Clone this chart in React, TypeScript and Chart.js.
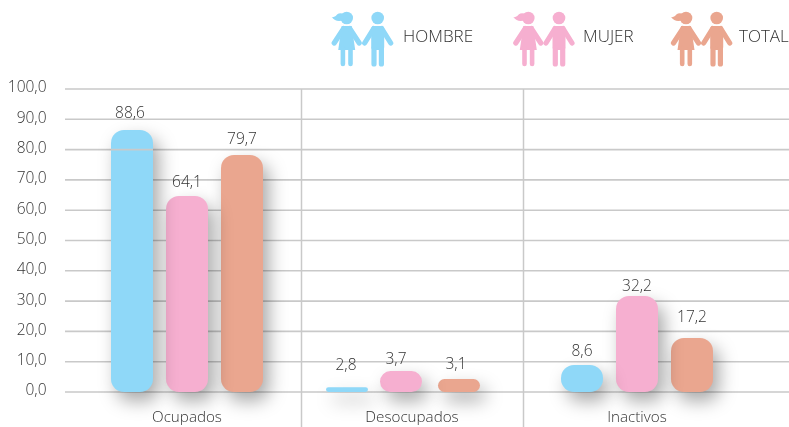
import React, { useEffect, useRef } from "react";
import { Chart, registerables } from "chart.js";

Chart.register(...registerables);

const categories = ["Ocupados", "Desocupados", "Inactivos"];
const seriesNames = ["HOMBRE", "MUJER", "TOTAL"];
const seriesColors = ["#8fd8f8", "#f6afd0", "#eaa68f"];
// Bar heights as drawn in the picture
const hombreHeights = [86.5, 1.6, 8.9];
const mujerHeights = [64.7, 6.9, 31.7];
const totalHeights = [78.2, 4.3, 17.8];
// Values as printed above the bars
const hombreLabels = ["88,6", "2,8", "8,6"];
const mujerLabels = ["64,1", "3,7", "32,2"];
const totalLabels = ["79,7", "3,1", "17,2"];
const yTickValues = [0, 10, 20, 30, 40, 50, 60, 70, 80, 90, 100];

const FONT = '"Open Sans", sans-serif';
const TEXT = "#333333";
const GRID = "#c9c9c9";
const barNudge = [[0, 0, 0], [-10, -11, -8], [0, 0, 0]];
const labelGap = [[16, 13, 15], [22, 12, 14], [13, 9, 20]];
const labelNudgeX = [[-2, 0, 0], [-1, -5, -3], [0, 0, 0]];
const separatorNudge = [2, -1];
const allLabels = [hombreLabels, mujerLabels, totalLabels];

function drawGirl(c: CanvasRenderingContext2D, x: number) {
  c.beginPath(); c.arc(x, 18, 6.3, 0, Math.PI * 2); c.fill();
  c.beginPath();
  c.moveTo(x - 3, 14);
  c.bezierCurveTo(x - 8, 12, x - 10, 15, x - 11, 16);
  c.quadraticCurveTo(x - 13, 17.5, x - 15, 17);
  c.bezierCurveTo(x - 12, 21, x - 8, 22, x - 3, 20);
  c.fill();
  c.beginPath();
  c.moveTo(x - 5, 26); c.lineTo(x + 5, 26); c.lineTo(x + 8.5, 50); c.lineTo(x - 8.5, 50);
  c.closePath(); c.fill();
  c.lineCap = "round";
  c.lineWidth = 5.2;
  c.beginPath();
  c.moveTo(x - 3, 28.5); c.lineTo(x - 12.5, 43);
  c.moveTo(x + 3, 28.5); c.lineTo(x + 12.5, 43);
  c.stroke();
  c.lineWidth = 4.6;
  c.beginPath();
  c.moveTo(x - 3.8, 48); c.lineTo(x - 3.8, 64);
  c.moveTo(x + 3.8, 48); c.lineTo(x + 3.8, 64);
  c.stroke();
}

function drawBoy(c: CanvasRenderingContext2D, x: number) {
  c.beginPath(); c.arc(x, 18, 6.3, 0, Math.PI * 2); c.fill();
  c.beginPath();
  c.roundRect(x - 6.5, 26, 13, 24, 3); c.fill();
  c.lineCap = "round";
  c.lineWidth = 5.2;
  c.beginPath();
  c.moveTo(x - 4, 28.5); c.lineTo(x - 13, 43);
  c.moveTo(x + 4, 28.5); c.lineTo(x + 13, 43);
  c.stroke();
  c.lineWidth = 5.2;
  c.beginPath();
  c.moveTo(x - 3.7, 48); c.lineTo(x - 3.7, 64);
  c.moveTo(x + 3.7, 48); c.lineTo(x + 3.7, 64);
  c.stroke();
}

const legendSlots = [
  { girl: 346.7, boy: 377.7, text: 403 },
  { girl: 528.3, boy: 559, text: 583 },
  { girl: 686, boy: 716.7, text: 739 },
];

const customPlugin = {
  id: "custom",
  afterDatasetsUpdate(chart: any) {
    chart.data.datasets.forEach((_: any, d: number) => {
      chart.getDatasetMeta(d).data.forEach((el: any, i: number) => {
        el.x += barNudge[i][d];
      });
    });
  },
  beforeDatasetsDraw(chart: any) {
    const c = chart.ctx;
    const y = chart.scales.y;
    const x = chart.scales.x;
    c.save();
    c.strokeStyle = GRID;
    c.lineWidth = 1.6;
    yTickValues.forEach((v) => {
      const py = y.getPixelForValue(v);
      c.beginPath(); c.moveTo(65, py); c.lineTo(789, py); c.stroke();
    });
    c.lineWidth = 1.5;
    for (let i = 0; i < categories.length - 1; i++) {
      const px = (x.getPixelForValue(i) + x.getPixelForValue(i + 1)) / 2 + separatorNudge[i];
      c.beginPath(); c.moveTo(px, y.getPixelForValue(100)); c.lineTo(px, 427); c.stroke();
    }
    c.restore();
  },
  beforeDatasetDraw(chart: any) {
    const c = chart.ctx;
    c.save();
    c.shadowColor = "rgba(0,0,0,0.34)";
    c.shadowBlur = 18;
    c.shadowOffsetX = 6;
    c.shadowOffsetY = 9;
  },
  afterDatasetDraw(chart: any) {
    chart.ctx.restore();
  },
  afterDatasetsDraw(chart: any) {
    const c = chart.ctx;
    const y80 = chart.scales.y.getPixelForValue(80);
    const first = chart.getDatasetMeta(0).data[0];
    c.save();
    c.strokeStyle = GRID;
    c.lineWidth = 1.6;
    c.beginPath(); c.moveTo(first.x - 21, y80); c.lineTo(first.x + 21, y80); c.stroke();

    c.font = `300 15.5px ${FONT}`;
    c.fillStyle = TEXT;
    c.textAlign = "center";
    c.textBaseline = "middle";
    chart.data.datasets.forEach((_: any, d: number) => {
      chart.getDatasetMeta(d).data.forEach((el: any, i: number) => {
        c.fillText(allLabels[d][i], el.x + labelNudgeX[i][d], el.y - labelGap[i][d]);
      });
    });

    chart.data.datasets.forEach((ds: any, d: number) => {
      const slot = legendSlots[d];
      c.fillStyle = ds.backgroundColor;
      c.strokeStyle = ds.backgroundColor;
      drawGirl(c, slot.girl);
      drawBoy(c, slot.boy);
      c.fillStyle = TEXT;
      c.textAlign = "left";
      c.font = `300 17px ${FONT}`;
      c.fillText(ds.label, slot.text, 37);
    });
    c.restore();
  },
};

export default function App() {
  const ref = useRef<HTMLCanvasElement>(null);
  useEffect(() => {
    document.body.style.margin = "0";
    const heights = [hombreHeights, mujerHeights, totalHeights];
    const chart = new Chart(ref.current!, {
      type: "bar",
      data: {
        labels: categories,
        datasets: seriesNames.map((label, d) => ({
          label,
          data: heights[d],
          backgroundColor: seriesColors[d],
          borderWidth: 0,
          borderRadius: 13,
          borderSkipped: false,
          clip: false,
          categoryPercentage: 165 / 225,
          barPercentage: 42 / 55,
        })),
      },
      options: {
        responsive: false,
        animation: false,
        layout: { padding: { top: 89, right: 39.5, bottom: 0, left: 0 } },
        plugins: { legend: { display: false }, tooltip: { enabled: false }, title: { display: false } },
        scales: {
          x: {
            grid: { display: false },
            border: { display: false },
            afterFit: (s: any) => { s.height = 35; },
            ticks: { color: TEXT, font: { family: FONT, size: 15.2, weight: "300" }, padding: 9, maxRotation: 0 },
          },
          y: {
            min: 0,
            max: 100,
            grid: { display: false },
            border: { display: false },
            afterFit: (s: any) => { s.width = 74.5; },
            afterBuildTicks: (s: any) => { s.ticks = yTickValues.map((value) => ({ value })); },
            ticks: {
              color: TEXT,
              font: { family: FONT, size: 15.5, weight: "300" },
              padding: 20,
              labelOffset: -1,
              callback: (v: any) => Number(v).toFixed(1).replace(".", ","),
            },
          },
        },
      } as any,
      plugins: [customPlugin],
    });
    return () => chart.destroy();
  }, []);
  return <canvas ref={ref} width={789} height={427} style={{ display: "block" }} />;
}
